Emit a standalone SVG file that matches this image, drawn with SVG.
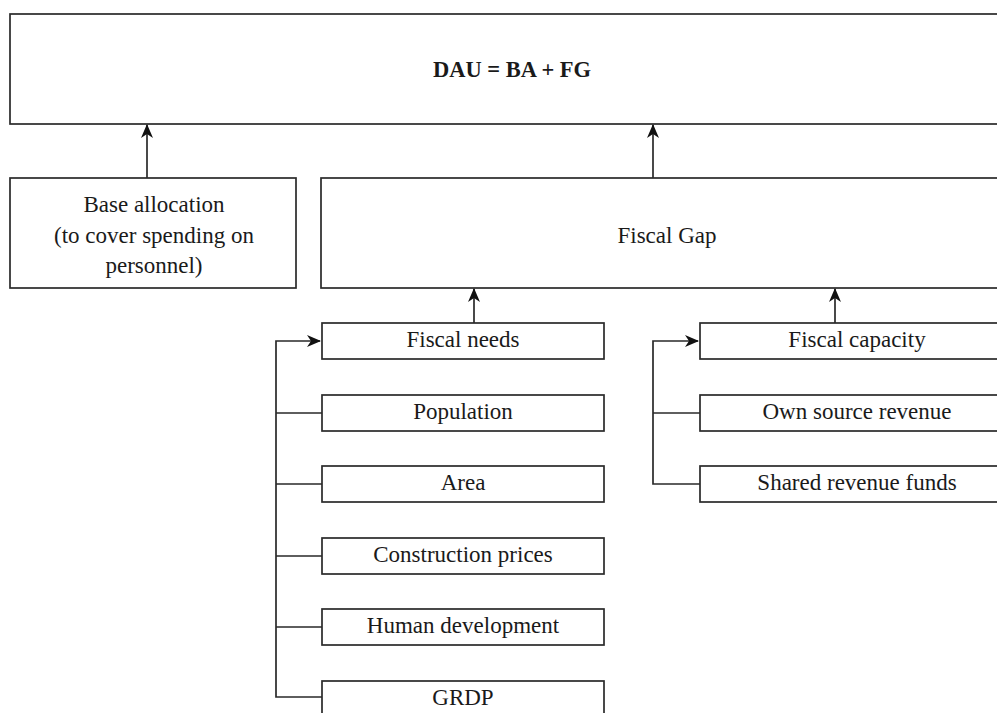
<svg xmlns="http://www.w3.org/2000/svg" width="997" height="713" viewBox="0 0 997 713">
  <style>
    .box { fill: #fff; stroke: #2a2a2a; stroke-width: 1.7; }
    .lbl { font-family: "Liberation Serif", "Times New Roman", serif; font-size: 23px; fill: #1a1a1a; text-anchor: middle; }
    .bold { font-weight: bold; font-size: 22.5px; }
    .wire { fill: none; stroke: #2a2a2a; stroke-width: 1.7; }
  </style>
  <defs>
    <marker id="head" viewBox="0 0 14 12" refX="13" refY="6" markerWidth="14" markerHeight="12" markerUnits="userSpaceOnUse" orient="auto">
      <path d="M0,0 L14,6 L0,12 L4,6 Z" fill="#111"/>
    </marker>
  </defs>
  <rect width="997" height="713" fill="#fff"/>

  <g id="dau">
    <rect class="box" x="10" y="14" width="1004" height="110"/>
    <text class="lbl bold" x="512" y="77">DAU = BA + FG</text>
  </g>

  <g id="base-allocation">
    <rect class="box" x="10" y="178" width="286" height="110"/>
    <text class="lbl" x="154" y="212">Base allocation</text>
    <text class="lbl" x="154" y="243">(to cover spending on</text>
    <text class="lbl" x="154" y="273">personnel)</text>
  </g>

  <g id="fiscal-gap">
    <rect class="box" x="321" y="178" width="693" height="110"/>
    <text class="lbl" x="667" y="243">Fiscal Gap</text>
  </g>

  <g id="fiscal-needs">
    <rect class="box" x="322" y="323" width="282" height="36"/>
    <text class="lbl" x="463" y="347">Fiscal needs</text>
  </g>
  <g id="population">
    <rect class="box" x="322" y="395" width="282" height="36"/>
    <text class="lbl" x="463" y="419">Population</text>
  </g>
  <g id="area">
    <rect class="box" x="322" y="466" width="282" height="36"/>
    <text class="lbl" x="463" y="490">Area</text>
  </g>
  <g id="construction-prices">
    <rect class="box" x="322" y="538" width="282" height="36"/>
    <text class="lbl" x="463" y="562">Construction prices</text>
  </g>
  <g id="human-development">
    <rect class="box" x="322" y="609" width="282" height="36"/>
    <text class="lbl" x="463" y="633">Human development</text>
  </g>
  <g id="grdp">
    <rect class="box" x="322" y="681" width="282" height="36"/>
    <text class="lbl" x="463" y="705">GRDP</text>
  </g>

  <g id="fiscal-capacity">
    <rect class="box" x="700" y="323" width="314" height="36"/>
    <text class="lbl" x="857" y="347">Fiscal capacity</text>
  </g>
  <g id="own-source-revenue">
    <rect class="box" x="700" y="395" width="314" height="36"/>
    <text class="lbl" x="857" y="419">Own source revenue</text>
  </g>
  <g id="shared-revenue-funds">
    <rect class="box" x="700" y="466" width="314" height="36"/>
    <text class="lbl" x="857" y="490">Shared revenue funds</text>
  </g>

  <g id="connectors">
    <line class="wire" x1="147" y1="178" x2="147" y2="125" marker-end="url(#head)"/>
    <line class="wire" x1="653" y1="178" x2="653" y2="125" marker-end="url(#head)"/>
    <line class="wire" x1="474" y1="323" x2="474" y2="289" marker-end="url(#head)"/>
    <line class="wire" x1="835" y1="323" x2="835" y2="289" marker-end="url(#head)"/>

    <path class="wire" d="M322,697 H276 V341 H320" marker-end="url(#head)"/>
    <path class="wire" d="M276,413 H322 M276,484 H322 M276,556 H322 M276,627 H322"/>

    <path class="wire" d="M700,484 H653 V341 H698" marker-end="url(#head)"/>
    <path class="wire" d="M653,413 H700"/>
  </g>
</svg>
